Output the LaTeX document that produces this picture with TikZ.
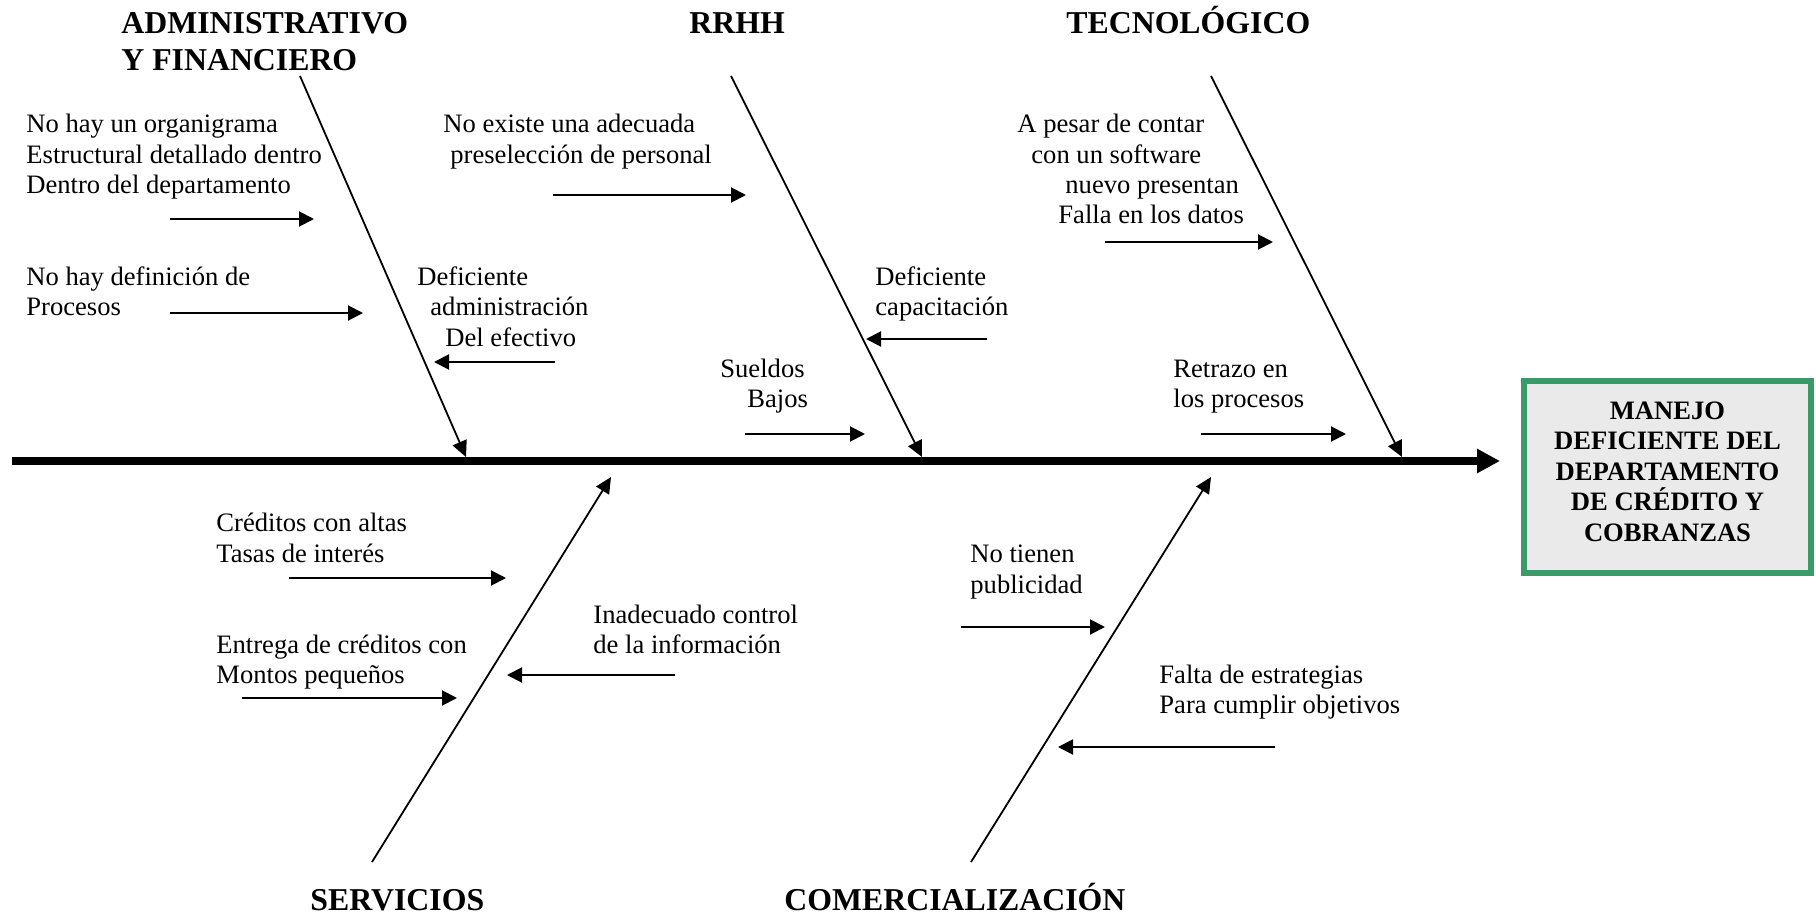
\documentclass[tikz,border=0pt]{standalone}
\usepackage{fontspec}
\setmainfont{Liberation Serif}
\usetikzlibrary{arrows.meta}
\definecolor{boxgreen}{RGB}{58,155,105}
\definecolor{boxfill}{RGB}{234,234,234}
\begin{document}
\begin{tikzpicture}[x=0.5pt,y=-0.5pt,
  txt/.style={anchor=base west,inner sep=0pt,font=\fontsize{13.3}{15.5}\selectfont},
  head/.style={anchor=base west,inner sep=0pt,font=\fontsize{15.9}{18.5}\selectfont\bfseries},
  cause/.style={line width=1pt,-{Triangle[length=7.5pt,width=7.5pt]}},
  bone/.style={line width=0.9pt,-{Triangle[length=8pt,width=7.5pt]}},
  spine/.style={line width=4pt,-{Triangle[length=11.5pt,width=11.5pt]}},
  effect/.style={draw=boxgreen,fill=boxfill,line width=3pt,minimum width=143.5pt,
    minimum height=96pt,align=center,inner sep=0pt,text depth=5.5pt,
    font=\fontsize{13.3}{15.3}\selectfont\bfseries}]
\useasboundingbox (0,0) rectangle (1816,916);

% headings
\node[head] (hadm1) at (121,33) {ADMINISTRATIVO};
\node[head] (hadm2) at (121,70) {Y FINANCIERO};
\node[head] (hrrhh) at (689,33) {RRHH};
\node[head] (htec)  at (1066,33) {TECNOLÓGICO};
\node[head] (hserv) at (310,910) {SERVICIOS};
\node[head] (hcom)  at (784,910) {COMERCIALIZACIÓN};

% effect box
\node[effect] (effect) at (1667.5,477) {MANEJO\\DEFICIENTE DEL\\DEPARTAMENTO\\DE CRÉDITO Y\\COBRANZAS};

% spine
\coordinate (spineL) at (12,461);
\coordinate (spineR) at (1500,461);
\draw[spine] (spineL) -- (spineR);

% bones
\coordinate (admT) at (300,76);   \coordinate (admB) at (466,457);
\coordinate (rrhT) at (731,76);   \coordinate (rrhB) at (922,457);
\coordinate (tecT) at (1211,76);  \coordinate (tecB) at (1402,457);
\coordinate (serB) at (372,862);  \coordinate (serT) at (611,477);
\coordinate (comB) at (971,862);  \coordinate (comT) at (1211,477);
\draw[bone] (admT) -- (admB);
\draw[bone] (rrhT) -- (rrhB);
\draw[bone] (tecT) -- (tecB);
\draw[bone] (serB) -- (serT);
\draw[bone] (comB) -- (comT);

% ADMINISTRATIVO Y FINANCIERO causes
\node[txt] (a1a) at (26,132) {No hay un organigrama};
\node[txt] (a1b) at (26,163) {Estructural detallado dentro};
\node[txt] (a1c) at (26,193) {Dentro del departamento};
\coordinate (a1s) at (170,219); \coordinate (a1e) at (314,219);
\draw[cause] (a1s) -- (a1e);
\node[txt] (a2a) at (26,285) {No hay definición de};
\node[txt] (a2b) at (26,315) {Procesos};
\coordinate (a2s) at (170,313); \coordinate (a2e) at (363,313);
\draw[cause] (a2s) -- (a2e);
\node[txt] (a3a) at (417,285) {Deficiente};
\node[txt] (a3b) at (430,315) {administración};
\node[txt] (a3c) at (445,346) {Del efectivo};
\coordinate (a3s) at (555,362); \coordinate (a3e) at (434,362);
\draw[cause] (a3s) -- (a3e);

% RRHH causes
\node[txt] (r1a) at (443,132) {No existe una adecuada};
\node[txt] (r1b) at (450,163) {preselección de personal};
\coordinate (r1s) at (553,195); \coordinate (r1e) at (746,195);
\draw[cause] (r1s) -- (r1e);
\node[txt] (r2a) at (875,285) {Deficiente};
\node[txt] (r2b) at (875,315) {capacitación};
\coordinate (r2s) at (987,339); \coordinate (r2e) at (866,339);
\draw[cause] (r2s) -- (r2e);
\node[txt] (r3a) at (720,377) {Sueldos};
\node[txt] (r3b) at (747,407) {Bajos};
\coordinate (r3s) at (745,434); \coordinate (r3e) at (865,434);
\draw[cause] (r3s) -- (r3e);

% TECNOLOGICO causes
\node[txt] (t1a) at (1017,132) {A pesar de contar};
\node[txt] (t1b) at (1031,163) {con un software};
\node[txt] (t1c) at (1065,193) {nuevo presentan};
\node[txt] (t1d) at (1058,223) {Falla en los datos};
\coordinate (t1s) at (1105,242); \coordinate (t1e) at (1273,242);
\draw[cause] (t1s) -- (t1e);
\node[txt] (t2a) at (1173,377) {Retrazo en};
\node[txt] (t2b) at (1173,407) {los procesos};
\coordinate (t2s) at (1201,434); \coordinate (t2e) at (1346,434);
\draw[cause] (t2s) -- (t2e);

% SERVICIOS causes
\node[txt] (s1a) at (216,531) {Créditos con altas};
\node[txt] (s1b) at (216,562) {Tasas de interés};
\coordinate (s1s) at (289,578); \coordinate (s1e) at (506,578);
\draw[cause] (s1s) -- (s1e);
\node[txt] (s2a) at (216,653) {Entrega de créditos con};
\node[txt] (s2b) at (216,683) {Montos pequeños};
\coordinate (s2s) at (242,698); \coordinate (s2e) at (457,698);
\draw[cause] (s2s) -- (s2e);
\node[txt] (s3a) at (593,623) {Inadecuado control};
\node[txt] (s3b) at (593,653) {de la información};
\coordinate (s3s) at (675,675); \coordinate (s3e) at (507,675);
\draw[cause] (s3s) -- (s3e);

% COMERCIALIZACION causes
\node[txt] (c1a) at (970,562) {No tienen};
\node[txt] (c1b) at (970,593) {publicidad};
\coordinate (c1s) at (961,627); \coordinate (c1e) at (1105,627);
\draw[cause] (c1s) -- (c1e);
\node[txt] (c2a) at (1159,683) {Falta de estrategias};
\node[txt] (c2b) at (1159,713) {Para cumplir objetivos};
\coordinate (c2s) at (1275,747); \coordinate (c2e) at (1058,747);
\draw[cause] (c2s) -- (c2e);
\end{tikzpicture}
\end{document}
